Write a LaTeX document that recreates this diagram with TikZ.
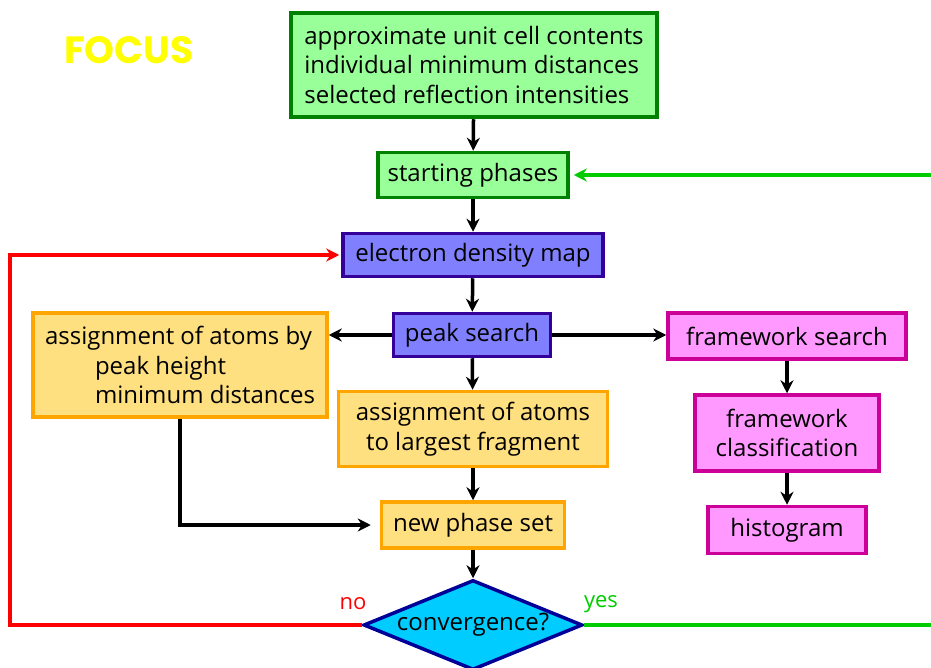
\documentclass[tikz,border=0pt]{standalone}
\usepackage{fontspec}
\setmainfont{Open Sans}
\newfontfamily\titlefont{Poppins}
\usetikzlibrary{shapes.geometric,arrows.meta}
\definecolor{gfill}{HTML}{99FF99}
\definecolor{gline}{HTML}{008000}
\definecolor{bfill}{HTML}{8080FF}
\definecolor{bline}{HTML}{330099}
\definecolor{yfill}{HTML}{FFE080}
\definecolor{yline}{HTML}{FFA500}
\definecolor{mfill}{HTML}{FF99FF}
\definecolor{mline}{HTML}{CC0099}
\definecolor{cfill}{HTML}{00CCFF}
\definecolor{cline}{HTML}{000099}
\definecolor{okgreen}{HTML}{00CC00}
\definecolor{focusyellow}{HTML}{FFFF00}
\begin{document}
\begin{tikzpicture}[x=1pt,y=-1pt,
  box/.style={draw, line width=3.5pt, inner sep=0pt, font=\fontsize{24}{29.5}\selectfont, align=center},
  gbox/.style={box, fill=gfill, draw=gline},
  bbox/.style={box, fill=bfill, draw=bline},
  ybox/.style={box, fill=yfill, draw=yline},
  mbox/.style={box, fill=mfill, draw=mline},
  arr/.style={line width=3.5pt, -{Stealth[length=13pt,width=13pt]}},
  lbl/.style={font=\fontsize{22}{24}\selectfont}
]
\useasboundingbox (0,0) rectangle (931,668);

\node[text=focusyellow, font=\titlefont\bfseries\fontsize{38}{44}\selectfont] (title) at (129,50) {FOCUS};

\node[gbox, line width=4.5pt, minimum width=366, minimum height=104, align=left] (top) at (474,65)
  {approximate unit cell contents\\individual minimum distances\\selected reflection intensities};
\node[gbox, minimum width=190, minimum height=45] (sp) at (473,175) {starting phases};
\node[bbox, minimum width=260, minimum height=43] (edm) at (473,255) {electron density map};
\node[bbox, minimum width=157, minimum height=43] (peak) at (472,335) {peak search};
\node[ybox, minimum width=294, minimum height=104, align=left] (left) at (180,365)
  {assignment of atoms by\\\hspace*{50pt}peak height\\\hspace*{50pt}minimum distances};
\node[ybox, minimum width=269, minimum height=75] (frag) at (473,429)
  {assignment of atoms\\to largest fragment};
\node[ybox, minimum width=183, minimum height=46] (nps) at (473,525) {new phase set};
\node[diamond, aspect=2.43, draw=cline, fill=cfill, line width=3.5pt, inner sep=0pt,
      minimum width=219, minimum height=90, font=\fontsize{24}{28}\selectfont] (conv) at (473,625) {convergence?};
\node[mbox, minimum width=238, minimum height=46] (fws) at (787,336) {framework search};
\node[mbox, minimum width=184, minimum height=76] (fwc) at (787,433) {framework\\classification};
\node[mbox, minimum width=158, minimum height=47] (hist) at (787,530) {histogram};

\node[lbl, text=red] (no) at (353,604) {no};
\node[lbl, text=okgreen] (yes) at (601,604) {yes};

\coordinate (lturn) at (180,527);
\coordinate (redc) at (10,625);
\coordinate (gright) at (931,625);
\coordinate (gtop) at (931,175);

\draw[arr] (top) -- (sp);
\draw[arr] (sp) -- (edm);
\draw[arr] (edm) -- (peak);
\draw[arr] (peak.west) -- (peak.west -| left.east);
\draw[arr] (peak.east) -- (peak.east -| fws.west);
\draw[arr] (peak) -- (frag);
\draw[arr] (frag) -- (nps);
\draw[arr] (nps) -- (conv);
\draw[arr, shorten >=9pt] (left.south -| lturn) |- (nps.west);
\draw[arr] (fws) -- (fwc);
\draw[arr] (fwc) -- (hist);

\draw[red, line width=3.5pt, -{Stealth[length=13pt,width=13pt]}, shorten >=2pt] (conv.west) -- (redc) |- (edm.west);
\draw[okgreen, line width=3.5pt] (conv.east) -- (gright);
\draw[okgreen, line width=3.5pt, -{Stealth[length=13pt,width=13pt]}, shorten >=4pt] (gtop) -- (sp.east);
\end{tikzpicture}
\end{document}
